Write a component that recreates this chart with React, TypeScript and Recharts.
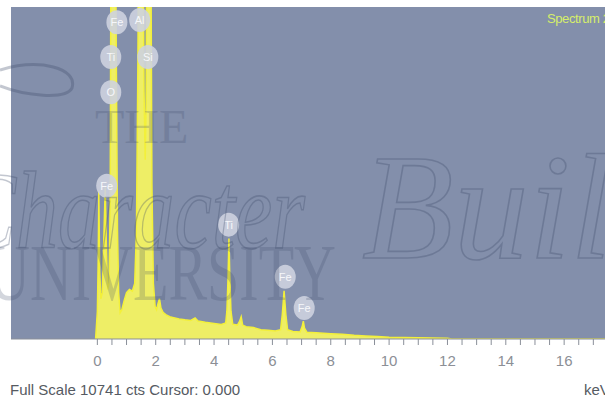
import React from "react";
import {
  Area,
  AreaChart,
  CartesianGrid,
  ReferenceDot,
  XAxis,
  YAxis,
} from "recharts";

// spectrum: energy (keV) and counts
const energyKeV = [
  -0.06, 0, 0.03, 0.05, 0.08, 0.12, 0.17, 0.22, 0.27, 0.31, 0.35, 0.4, 0.44,
  0.47, 0.62, 0.65, 0.69, 0.73, 0.78, 0.84, 0.92, 1.0, 1.1, 1.2, 1.28, 1.34,
  1.39, 1.42, 1.56, 1.6, 1.64, 1.67, 1.7, 1.83, 1.87, 1.92, 1.98, 2.03, 2.08,
  2.13, 2.18, 2.26, 2.36, 2.48, 2.62, 2.8, 3.0, 3.2, 3.35, 3.45, 3.7, 4.0, 4.25,
  4.4, 4.44, 4.48, 4.51, 4.54, 4.58, 4.64, 4.8, 4.87, 4.93, 4.98, 5.1, 5.35,
  5.6, 5.85, 6.1, 6.28, 6.34, 6.4, 6.46, 6.52, 6.7, 6.95, 7.02, 7.06, 7.1, 7.18,
  7.5, 8.0, 8.4, 8.8, 9.2, 9.6, 10.0, 10.5, 11.0, 11.5, 12.0, 12.15, 17.4,
];
const counts = [
  0, 900, 2600, 4800, 2200, 1300, 1500, 3200, 4900, 3000, 1600, 1800, 4500,
  14000, 14000, 9000, 3500, 1500, 850, 950, 1250, 1500, 1600, 1550, 1800, 3500,
  9000, 14000, 14000, 8000, 5800, 7500, 14000, 14000, 5000, 1800, 1050, 950,
  1150, 1300, 1000, 850, 780, 720, 690, 650, 620, 600, 680, 580, 540, 500, 470,
  520, 900, 2000, 3250, 2000, 900, 480, 450, 560, 720, 450, 400, 370, 300, 280,
  260, 300, 800, 1560, 800, 300, 240, 230, 400, 580, 350, 220, 200, 170, 150,
  120, 100, 80, 60, 50, 40, 35, 25, 0, 0,
];

const tickValues = [
  0, 0.5, 1, 1.5, 2, 2.5, 3, 3.5, 4, 4.5, 5, 5.5, 6, 6.5, 7, 7.5, 8, 8.5, 9,
  9.5, 10, 10.5, 11, 11.5, 12, 12.5, 13, 13.5, 14, 14.5, 15, 15.5, 16, 16.5, 17,
];

// element markers: symbol, energy and height of the badge
const markerSymbols = ["Fe", "Ti", "O", "Al", "Si", "Fe", "Ti", "Fe", "Fe"];
const markerKeV = [0.67, 0.46, 0.46, 1.45, 1.73, 0.32, 4.5, 6.44, 7.09];
const markerCounts = [10250, 9120, 7980, 10320, 9120, 4960, 3700, 2010, 1000];

const FULL_SCALE = 10741;

const spectrum = energyKeV.map((e, i) => ({ keV: e, cts: counts[i] }));

const narrow = "'Liberation Sans Narrow', 'Arial Narrow', 'Liberation Sans', sans-serif";

function badge(symbol: string) {
  return (props: any) => {
    const { cx, cy } = props;
    return (
      <g>
        <ellipse cx={cx} cy={cy} rx={10.5} ry={12} fill="#cdd2df" opacity={0.9} />
        <text
          x={cx}
          y={cy + 4}
          textAnchor="middle"
          fontSize={11}
          fontFamily={narrow}
          fill="#f6f7fa"
        >
          {symbol}
        </text>
      </g>
    );
  };
}

export default function App() {
  return (
    <div
      style={{
        position: "absolute",
        left: 0,
        top: 0,
        width: 605,
        height: 402,
        background: "#ffffff",
        overflow: "hidden",
      }}
    >
      <AreaChart
        width={605}
        height={402}
        data={spectrum}
        margin={{ top: 7, right: 0, left: 11, bottom: 0 }}
      >
        <CartesianGrid fill="#838fab" horizontal={false} vertical={false} />
        <XAxis
          type="number"
          dataKey="keV"
          domain={[-2.96, 17.4]}
          allowDataOverflow
          ticks={tickValues}
          interval={0}
          tickFormatter={(v) => (Number(v) % 2 === 0 ? String(v) : "")}
          height={63}
          tickSize={6}
          tickMargin={10}
          axisLine={{ stroke: "#8a8f99" }}
          tickLine={{ stroke: "#8a8f99" }}
          tick={{ fontSize: 15, fill: "#8c8f96", fontFamily: narrow }}
        />
        <YAxis hide domain={[0, FULL_SCALE]} allowDataOverflow />
        <Area
          type="linear"
          dataKey="cts"
          stroke="#f3f03a"
          strokeWidth={1.5}
          fill="#eeee66"
          fillOpacity={1}
          isAnimationActive={false}
          dot={false}
          activeDot={false}
        />
        {markerSymbols.map((s, i) => (
          <ReferenceDot
            key={i}
            x={markerKeV[i]}
            y={markerCounts[i]}
            r={11}
            shape={badge(s)}
          />
        ))}
      </AreaChart>

      {/* watermark over the whole picture */}
      <svg
        width={605}
        height={402}
        style={{ position: "absolute", left: 0, top: 0, pointerEvents: "none" }}
      >
        <g fill="#3c4a68" opacity={0.22} fontFamily="'Liberation Serif', serif">
          <text x={95} y={143} fontSize={48}>THE</text>
          <text
            x={-12}
            y={300}
            fontSize={80}
            textLength={348}
            lengthAdjust="spacingAndGlyphs"
          >
            UNIVERSITY
          </text>
        </g>
        <g
          fill="none"
          stroke="#3c4a68"
          strokeWidth={1.6}
          opacity={0.3}
          fontFamily="'Liberation Serif', serif"
          fontStyle="italic"
        >
          <text
            x={-40}
            y={248}
            fontSize={110}
            textLength={345}
            lengthAdjust="spacingAndGlyphs"
          >
            Character
          </text>
          <text x={362} y={258} fontSize={150}>
            Building
          </text>
          <path d="M0,70 C40,58 78,68 72,88 C66,100 25,96 0,86" strokeWidth={3} />
        </g>
      </svg>

      <div
        style={{
          position: "absolute",
          left: 10,
          top: 381,
          fontFamily: narrow,
          fontSize: 15,
          color: "#555a62",
          whiteSpace: "nowrap",
        }}
      >
        Full Scale 10741 cts Cursor: 0.000
      </div>
      <div
        style={{
          position: "absolute",
          left: 584,
          top: 381,
          fontFamily: narrow,
          fontSize: 15,
          color: "#555a62",
          whiteSpace: "nowrap",
        }}
      >
        keV
      </div>
      <div
        style={{
          position: "absolute",
          left: 547,
          top: 11,
          fontFamily: narrow,
          fontSize: 13,
          letterSpacing: -0.4,
          color: "#d6ee6a",
          whiteSpace: "nowrap",
        }}
      >
        Spectrum 2
      </div>
    </div>
  );
}
